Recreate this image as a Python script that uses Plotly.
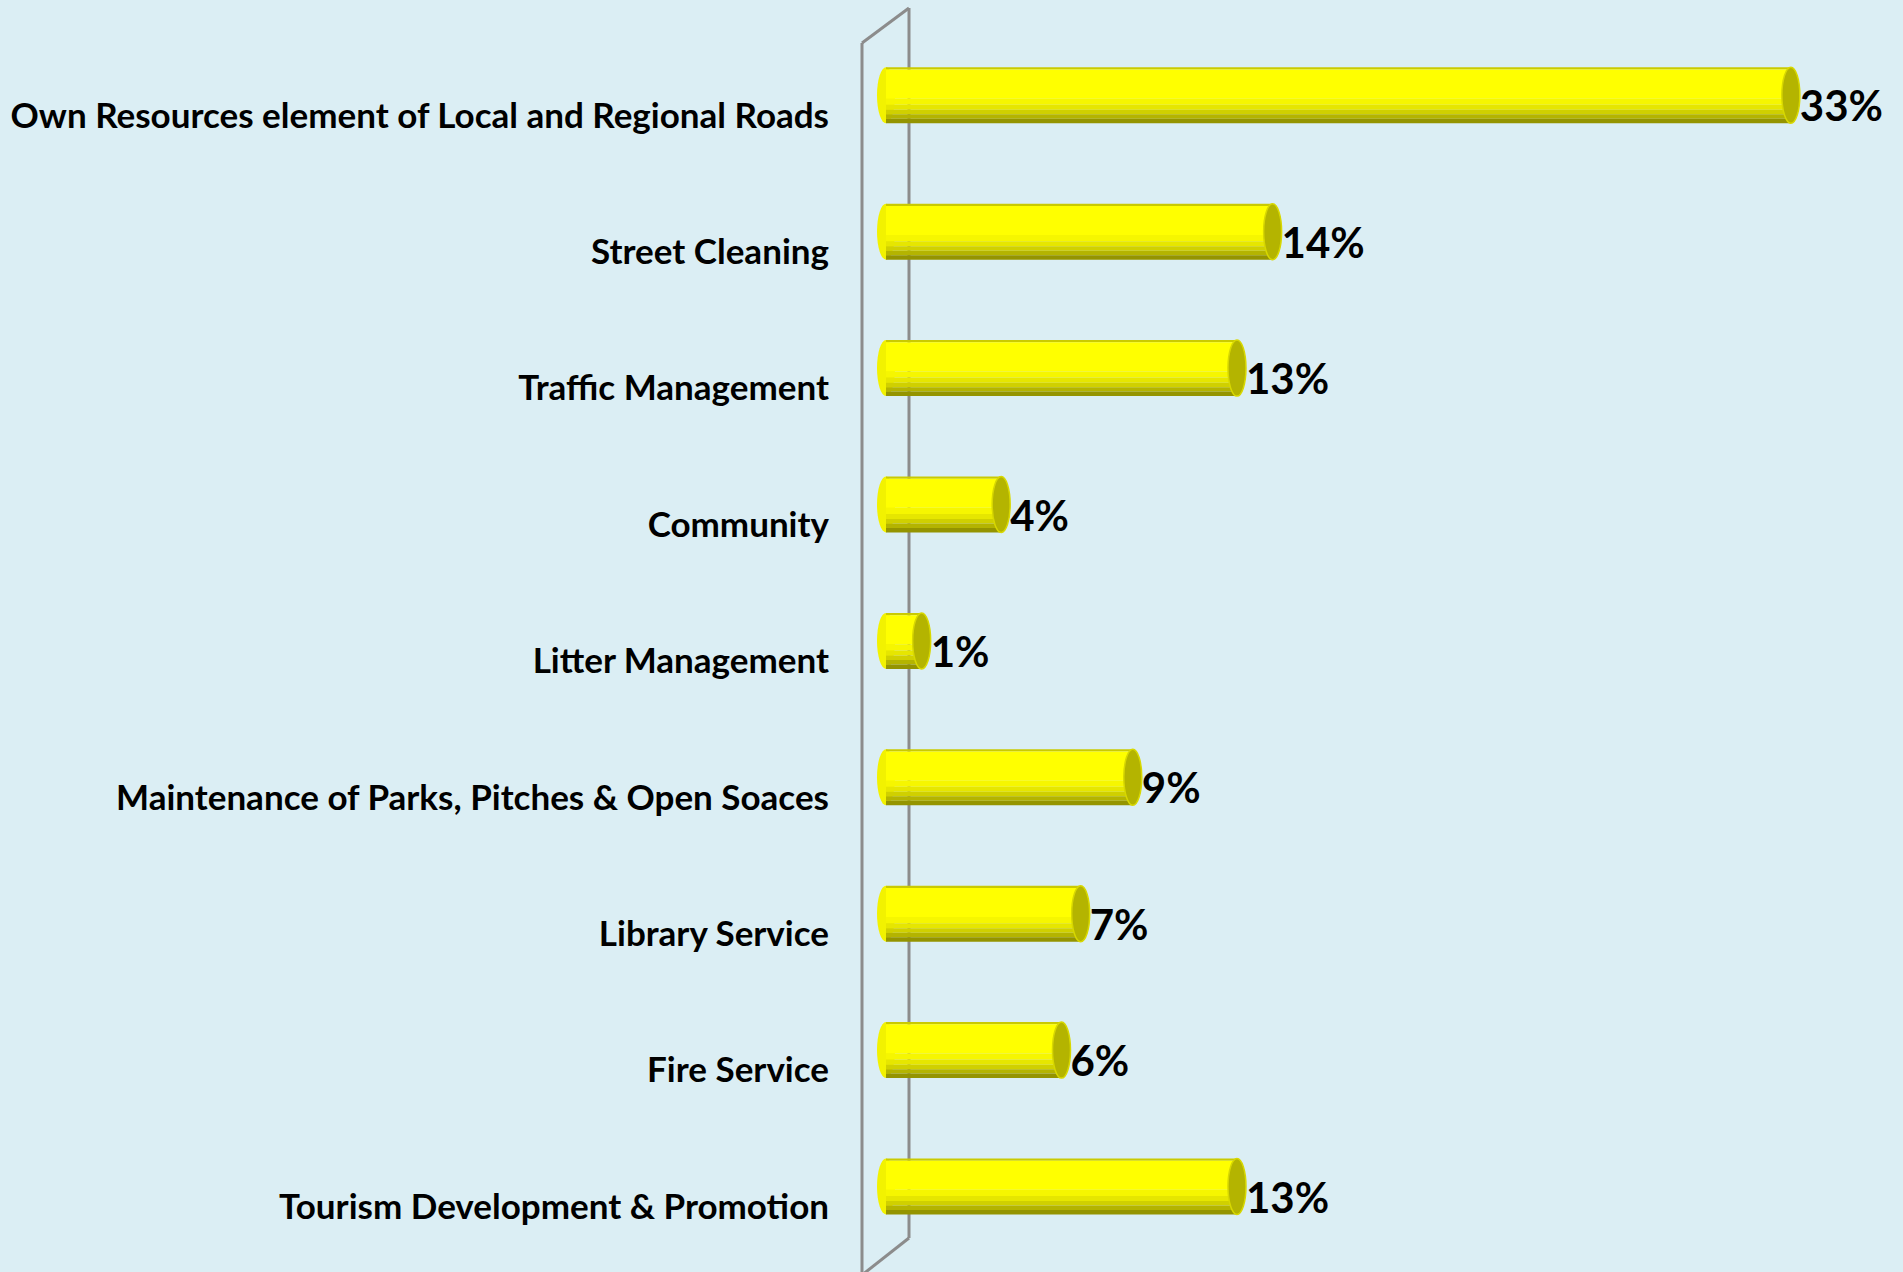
import plotly.graph_objects as go

# ---------------- data ----------------
categories = [
    "Own Resources element of Local and Regional Roads",
    "Street Cleaning",
    "Traffic Management",
    "Community",
    "Litter Management",
    "Maintenance of Parks, Pitches & Open Soaces",
    "Library Service",
    "Fire Service",
    "Tourism Development & Promotion",
]
values = [33.0, 14.1, 12.8, 4.2, 1.3, 9.0, 7.1, 6.4, 12.8]
value_labels = ["33%", "14%", "13%", "4%", "1%", "9%", "7%", "6%", "13%"]

# ---------------- layout constants (pixels) ----------------
W, H = 1903, 1272
BG = "#DBEEF4"
PLOT_L = 862
X0_PX = 886          # pixel of value 0
PX_PER_UNIT = 27.42
CAT0_PX = 115.3      # pixel of first category centre
PX_PER_CAT = 136.4

x_lo = (PLOT_L - X0_PX) / PX_PER_UNIT
x_hi = (W - X0_PX) / PX_PER_UNIT
y_top = (0 - CAT0_PX) / PX_PER_CAT
y_bot = (H - CAT0_PX) / PX_PER_CAT

BAR_W = 56 / PX_PER_CAT            # bar thickness in category units
BAR_OFF = (-20 / PX_PER_CAT) - BAR_W / 2   # bars sit above category centre
CAP_HALF = 9 / PX_PER_UNIT

ypos = list(range(len(categories)))

fig = go.Figure()

# cylinder body simulated with horizontal colour bands (top -> bottom)
bands = [
    (0.00, 0.04, "#CACA00"),
    (0.04, 0.56, "#FFFF00"),
    (0.56, 0.67, "#F6F600"),
    (0.67, 0.76, "#E6E600"),
    (0.76, 0.84, "#D0D000"),
    (0.84, 0.92, "#B4B400"),
    (0.92, 1.00, "#949400"),
]
for f0, f1, col in bands:
    fig.add_trace(go.Bar(
        y=ypos, x=values, orientation="h",
        offset=BAR_OFF + f0 * BAR_W, width=(f1 - f0) * BAR_W,
        marker=dict(color=col, line=dict(width=0)),
        hoverinfo="skip", showlegend=False,
    ))

# value labels
fig.add_trace(go.Scatter(
    y=[p + BAR_OFF + BAR_W / 2 + 0.115 for p in ypos],
    x=[v + CAP_HALF for v in values],
    mode="text", text=value_labels, textposition="middle right",
    textfont=dict(family="Lato", size=42, color="#000000", weight="bold"),
    hoverinfo="skip", showlegend=False, cliponaxis=False,
))

shapes = []
# left rounded ends and right caps of the cylinders
for p, v in zip(ypos, values):
    y0 = p + BAR_OFF
    y1 = y0 + BAR_W
    shapes.append(dict(type="circle", xref="x", yref="y",
                       x0=-CAP_HALF, x1=CAP_HALF, y0=y0, y1=y1,
                       fillcolor="#F2F200", line=dict(width=0),
                       layer="below"))
    shapes.append(dict(type="circle", xref="x", yref="y",
                       x0=v - CAP_HALF, x1=v + CAP_HALF, y0=y0, y1=y1,
                       fillcolor="#B4B400", line=dict(color="#D8D800", width=1.5),
                       layer="above"))

# 3D wall outline (pixels -> paper)
def px(xp):
    return (xp - PLOT_L) / (W - PLOT_L)

def py(yp):
    return 1 - yp / H

wall = dict(color="#8C8C8C", width=3)
shapes += [
    dict(type="line", xref="paper", yref="paper", x0=px(862), x1=px(862), y0=py(43), y1=py(H + 5), line=wall, layer="below"),
    dict(type="line", xref="paper", yref="paper", x0=px(909), x1=px(909), y0=py(8), y1=py(1238), line=wall, layer="below"),
    dict(type="line", xref="paper", yref="paper", x0=px(862), x1=px(909), y0=py(43), y1=py(8), line=wall, layer="below"),
    dict(type="line", xref="paper", yref="paper", x0=px(909), x1=px(862), y0=py(1238), y1=py(H + 3), line=wall, layer="below"),
]

fig.update_layout(
    width=W, height=H,
    paper_bgcolor=BG, plot_bgcolor=BG,
    margin=dict(l=PLOT_L, r=0, t=0, b=0, autoexpand=False),
    barmode="overlay",
    shapes=shapes,
    xaxis=dict(range=[x_lo, x_hi], showgrid=False, zeroline=False,
               showticklabels=False, showline=False, fixedrange=True),
    yaxis=dict(range=[y_bot, y_top], tickmode="array", tickvals=ypos,
               ticktext=categories, showgrid=False, zeroline=False,
               showline=False, ticks="", ticklabelstandoff=32,
               tickfont=dict(family="Lato", size=35, color="#000000", weight="bold"),
               fixedrange=True),
)

fig.write_html(
    "out.html",
    config={"displayModeBar": False},
    post_script=(
        "document.body.style.margin='0';"
        "document.body.style.overflow='hidden';"
        "document.body.style.background='" + BG + "';"
    ),
)
